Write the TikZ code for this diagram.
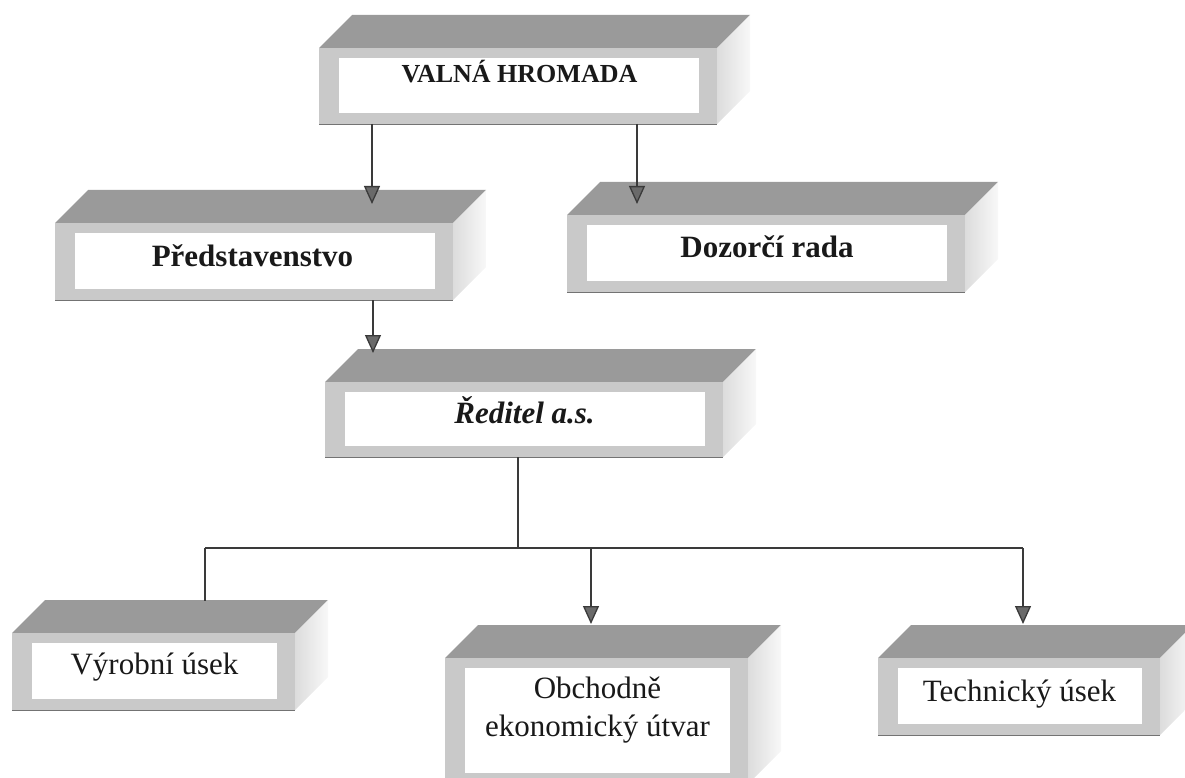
\documentclass[tikz,border=0pt]{standalone}
\usepackage{fontspec}
\setmainfont{Liberation Serif}
\usetikzlibrary{arrows.meta}
\definecolor{topc}{HTML}{9A9A9A}
\definecolor{frontc}{HTML}{C9C9C9}
\definecolor{sidel}{HTML}{DCDCDC}
\definecolor{sider}{HTML}{F8F8F8}
\definecolor{linec}{HTML}{3A3A3A}
\definecolor{tipc}{HTML}{6A6A6A}
\tikzset{
  topface/.style={fill=topc},
  sideface/.style={left color=sidel, right color=sider},
  frontface/.style={fill=frontc, inner sep=0pt, outer sep=0pt, draw=none},
  edgeline/.style={draw=black!55, line width=0.8pt},
  lbl/.style={font=\fontsize{31}{38}\selectfont, anchor=base, inner sep=0pt, text=black!90, align=center},
  conn/.style={draw=linec, line width=1.3pt},
  arr/.style={conn, -{Triangle[width=16pt,length=18pt,fill=tipc]}},
}
\newcommand\dd{33}
\newcommand\mkbox[5]{%
  \path[topface] (#2,-#3) -- ++(\dd,\dd) -- (#4+\dd,-#3+\dd) -- (#4,-#3) -- cycle;
  \shade[sideface] (#4,-#3) -- (#4+\dd,-#3+\dd) -- (#4+\dd,-#5+\dd) -- (#4,-#5) -- cycle;
  \node[frontface, minimum width={#4-#2}, minimum height={#5-#3}, anchor=north west] (#1) at (#2,-#3) {};
  \fill[white] (#2+20,-#3-10) rectangle (#4-18,-#5+11);
  \draw[edgeline] (#1.south west) -- (#1.south east);
}
\begin{document}
\begin{tikzpicture}[x=1pt,y=1pt]
\useasboundingbox (0,0) rectangle (1185,-778);
\begin{scope}
\clip (0,0) rectangle (1185,-778);
% boxes
\mkbox{vh}{319}{48}{717}{124}
\mkbox{pr}{55}{223}{453}{300}
\mkbox{dr}{567}{215}{965}{292}
\mkbox{re}{325}{382}{723}{457}
\mkbox{vy}{12}{633}{295}{710}
\mkbox{ob}{445}{658}{748}{784}
\mkbox{te}{878}{658}{1160}{735}
% labels
\node[lbl, font=\fontsize{26}{30}\selectfont\bfseries] (tvh) at (519.5,-83) {VALNÁ HROMADA};
\node[lbl, font=\fontsize{31}{38}\selectfont\bfseries] (tpr) at (252.5,-266) {Představenstvo};
\node[lbl, font=\fontsize{31}{38}\selectfont\bfseries] (tdr) at (767,-257) {Dozorčí rada};
\node[lbl, font=\fontsize{31}{38}\selectfont\bfseries\itshape] (tre) at (524.5,-423) {Ředitel a.s.};
\node[lbl] (tvy) at (154.5,-674) {Výrobní úsek};
\node[lbl] (tob) at (597.5,-736) {Obchodně\\ekonomický útvar};
\node[lbl] (tte) at (1019.5,-701) {Technický úsek};
% connectors
\coordinate (p1) at (372,-204);
\coordinate (p2) at (637,-204);
\coordinate (p3) at (373,-353);
\coordinate (hj) at (518,-548);
\coordinate (hl) at (205,-548);
\coordinate (hr) at (1023,-548);
\coordinate (vt) at (205,-601);
\coordinate (p4) at (591,-624);
\coordinate (p5) at (1023,-624);
\draw[arr] (vh.south -| p1) -- (p1);
\draw[arr] (vh.south -| p2) -- (p2);
\draw[arr] (pr.south -| p3) -- (p3);
\draw[conn] (re.south -| hj) -- (hj);
\draw[conn] (hl) -- (hr);
\draw[conn] (hl) -- (vt);
\draw[arr] (p4 |- hl) -- (p4);
\draw[arr] (hr) -- (p5);
\end{scope}
\end{tikzpicture}
\end{document}
